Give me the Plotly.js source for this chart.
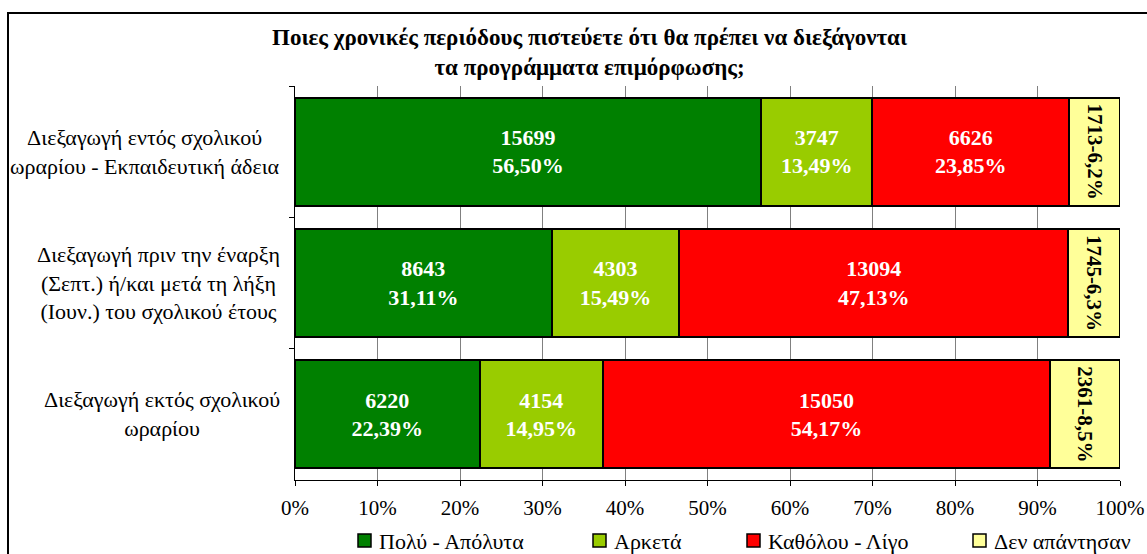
<!DOCTYPE html>
<html>
<head>
<meta charset="utf-8">
<script src="https://cdn.plot.ly/plotly-3.0.1.min.js"></script>
<style>html,body{margin:0;padding:0;background:#fff;}#chart{width:1147px;height:554px;}</style>
</head>
<body>
<div id="chart"></div>
<script>
const categories = [
  "Διεξαγωγή εντός σχολικού<br>ωραρίου - Εκπαιδευτική άδεια",
  "Διεξαγωγή πριν την έναρξη<br>(Σεπτ.) ή/και μετά τη λήξη<br>(Ιουν.) του σχολικού έτους",
  "Διεξαγωγή εκτός σχολικού<br>ωραρίου"
];
const seriesNames = ["Πολύ - Απόλυτα", "Αρκετά", "Καθόλου - Λίγο", "Δεν απάντησαν"];
const countsPolu    = [15699, 8643, 6220];
const countsArketa  = [3747, 4303, 4154];
const countsKatholou = [6626, 13094, 15050];
const countsNoAnswer = [1713, 1745, 2361];
const pctPolu    = ["56,50%", "31,11%", "22,39%"];
const pctArketa  = ["13,49%", "15,49%", "14,95%"];
const pctKatholou = ["23,85%", "47,13%", "54,17%"];
const pctNoAnswer = ["6,2%", "6,3%", "8,5%"];
const colors = ["#008000", "#99CC00", "#FF0000", "#FFFF99"];
const tickVals = [0,10,20,30,40,50,60,70,80,90,100];
const tickText = ["0%","10%","20%","30%","40%","50%","60%","70%","80%","90%","100%"];

const totals = categories.map((c,i)=>countsPolu[i]+countsArketa[i]+countsKatholou[i]+countsNoAnswer[i]);
const share = arr => arr.map((v,i)=>v/totals[i]*100);

const serif = "'Liberation Serif', 'Times New Roman', Times, serif";
function mk(name, counts, pcts, color, rotated){
  return {
    type:'bar', orientation:'h', name: name, showlegend:false,
    y: categories, x: share(counts),
    marker:{color:color, line:{color:'#000', width:2}},
    text: rotated ? counts.map((c,i)=>c+'-'+pcts[i]) : counts.map((c,i)=>c+'<br>'+pcts[i]),
    textposition:'inside', insidetextanchor:'middle',
    textangle: rotated ? 90 : 0,
    constraintext:'none',
    insidetextfont:{family:serif, size: rotated ? 21 : 22, color: rotated ? '#000' : '#fff', weight:'bold'},
    hoverinfo:'skip'
  };
}
const data = [
  mk(seriesNames[0], countsPolu, pctPolu, colors[0], false),
  mk(seriesNames[1], countsArketa, pctArketa, colors[1], false),
  mk(seriesNames[2], countsKatholou, pctKatholou, colors[2], false),
  mk(seriesNames[3], countsNoAnswer, pctNoAnswer, colors[3], true)
];

// plot area in pixels (for layout-only placement of the frame and the legend)
const PL = 295, PR = 1120, PT = 86, PB = 480;
const px2x = p => (p - PL) / (PR - PL);
const px2y = p => (PB - p) / (PB - PT);

const annotations = categories.map(c=>({
  xref:'paper', yref:'y', x:0, y:c, xanchor:'right', yanchor:'middle', xshift:-13,
  text:c, showarrow:false, align:'center',
  font:{family:serif, size:22, color:'#000'}
}));

// manual legend (swatch + label)
const legendLeft = [358, 593, 747, 973];
const legendShapes = [];
seriesNames.forEach((n,i)=>{
  legendShapes.push({type:'rect', xref:'paper', yref:'paper',
    x0:px2x(legendLeft[i]), x1:px2x(legendLeft[i]+13), y0:px2y(547), y1:px2y(534),
    fillcolor:colors[i], line:{color:'#000', width:1.5}});
  annotations.push({xref:'paper', yref:'paper', x:px2x(legendLeft[i]+19), y:px2y(541),
    xanchor:'left', yanchor:'middle', text:n, showarrow:false,
    font:{family:serif, size:22, color:'#000'}});
});

const layout = {
  width:1147, height:554,
  margin:{l:PL, r:1147-PR, t:PT, b:554-PB},
  paper_bgcolor:'#fff', plot_bgcolor:'#fff',
  barmode:'stack', bargap:0.18,
  showlegend:false,
  title:{text:'<b>Ποιες χρονικές περιόδους πιστεύετε ότι θα πρέπει να διεξάγονται<br>τα προγράμματα επιμόρφωσης;</b>',
    x:0.514, xref:'container', xanchor:'center', y:0.918, yref:'container', yanchor:'top',
    font:{family:serif, size:23, color:'#000'}},
  xaxis:{range:[0,100], tickvals:tickVals, ticktext:tickText,
    showgrid:true, gridcolor:'#808080', gridwidth:1,
    showline:true, linecolor:'#000', linewidth:1,
    ticks:'outside', ticklen:5, tickcolor:'#000', ticklabelstandoff:4,
    tickfont:{family:serif, size:21, color:'#000'}, zeroline:false, fixedrange:true},
  yaxis:{type:'category', autorange:'reversed', showticklabels:false,
    tickson:'boundaries', ticks:'outside', ticklen:5, tickcolor:'#000',
    showline:true, linecolor:'#000', linewidth:1, showgrid:false, zeroline:false, fixedrange:true},
  annotations:annotations,
  shapes:[{type:'rect', xref:'paper', yref:'paper', x0:px2x(8), x1:px2x(1160), y0:px2y(600), y1:px2y(13),
    line:{color:'#000', width:2}, fillcolor:'rgba(0,0,0,0)', layer:'below'}].concat(legendShapes)
};
Plotly.newPlot('chart', data, layout, {displayModeBar:false, staticPlot:true});
</script>
</body>
</html>
